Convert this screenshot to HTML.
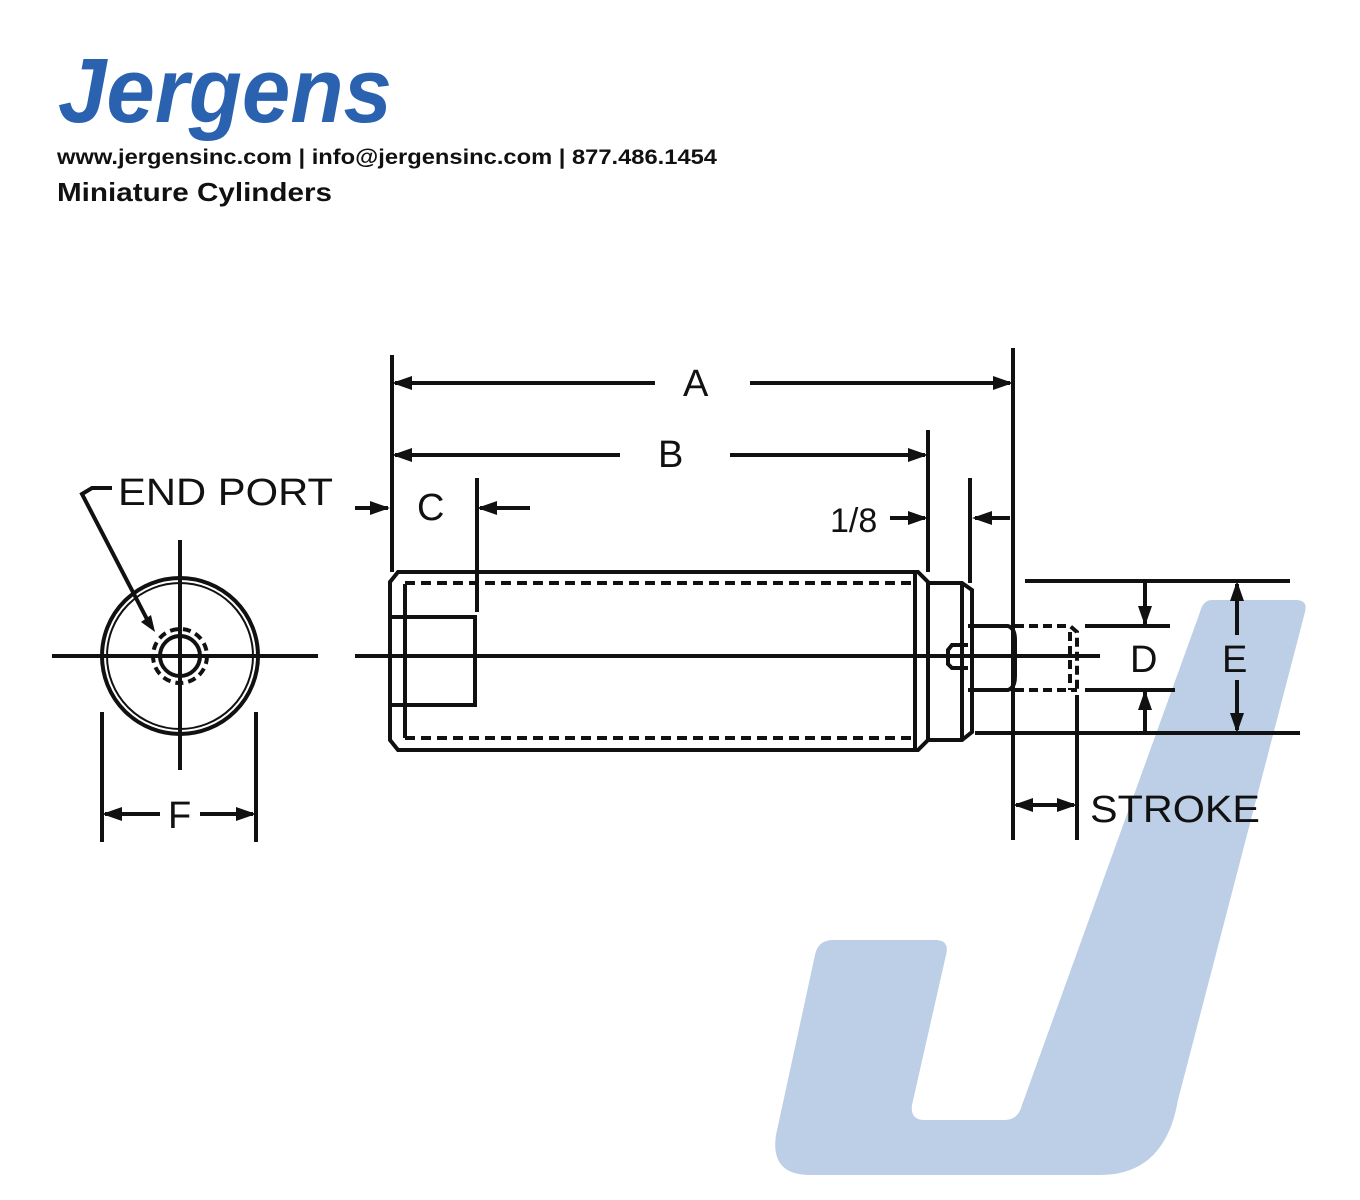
<!DOCTYPE html>
<html><head><style>body{margin:0;background:#fff}svg{display:block}</style></head><body>
<svg width="1360" height="1200" viewBox="0 0 1360 1200" xmlns="http://www.w3.org/2000/svg">
<path d="M1212,600 L1296,600 Q1308,600 1305,612 L1178,1100 Q1165,1175 1100,1175 L810,1175 Q770,1175 776,1135 L815,955 Q818,940 833,940 L935,940 Q950,940 946,955 L912,1105 Q910,1120 925,1120 L1005,1120 Q1018,1120 1022,1105 L1200,612 Q1203,600 1212,600 Z" fill="#bccfe6"/>
<text x="58" y="122" font-family="Liberation Sans, sans-serif" font-weight="bold" font-style="italic" font-size="92" fill="#2a62b0" textLength="334" lengthAdjust="spacingAndGlyphs">Jergens</text>
<text x="57" y="164" font-family="Liberation Sans, sans-serif" font-weight="bold" font-size="21" fill="#111" textLength="660" lengthAdjust="spacingAndGlyphs">www.jergensinc.com | info@jergensinc.com | 877.486.1454</text>
<text x="57" y="201" font-family="Liberation Sans, sans-serif" font-weight="bold" font-size="26" fill="#111" textLength="275" lengthAdjust="spacingAndGlyphs">Miniature Cylinders</text>
<g stroke="#111" stroke-width="4" fill="none">
<circle cx="180" cy="656" r="78"/>
<circle cx="180" cy="656" r="73" stroke-width="2"/>
<circle cx="180" cy="656" r="27" stroke-dasharray="8,5"/>
<circle cx="180" cy="656" r="20"/>
<line x1="52" y1="656" x2="318" y2="656"/>
<line x1="180" y1="540" x2="180" y2="770"/>
<line x1="102" y1="712" x2="102" y2="842"/>
<line x1="256" y1="712" x2="256" y2="842"/>
<line x1="105" y1="814" x2="160" y2="814"/>
<line x1="200" y1="814" x2="253" y2="814"/>
<path d="M112,488 L92,488 L82,494 L150,625"/>
<path d="M398,572 L918,572 L928,582 L928,740 L918,750 L398,750 L390,740 L390,582 Z"/>
<line x1="405" y1="584" x2="405" y2="738"/>
<line x1="915" y1="574" x2="915" y2="748"/>
<line x1="405" y1="583" x2="915" y2="583" stroke-dasharray="10,6"/>
<line x1="405" y1="738" x2="915" y2="738" stroke-dasharray="10,6"/>
<rect x="390" y="617" width="85" height="88"/>
<line x1="477" y1="478" x2="477" y2="612"/>
<path d="M928,583 L962,583 L972,590 L972,732 L962,740 L928,740"/>
<line x1="962" y1="584" x2="962" y2="738"/>
<path d="M968,626 L1008,626 Q1015,628 1015,640 L1015,676 Q1015,688 1008,690 L968,690"/>
<path d="M968,645 L952,645 L948,650 L948,664 L952,668 L968,668"/>
<path d="M1015,626 L1070,626 L1077,632 L1077,690 M1015,690 L1077,690 M1070,632 L1070,690" stroke-dasharray="9,5"/>
<line x1="355" y1="656" x2="1100" y2="656"/>
<line x1="392" y1="355" x2="392" y2="572"/>
<line x1="1013" y1="348" x2="1013" y2="840"/>
<line x1="395" y1="383" x2="655" y2="383"/>
<line x1="750" y1="383" x2="1010" y2="383"/>
<line x1="928" y1="430" x2="928" y2="572"/>
<line x1="395" y1="455" x2="620" y2="455"/>
<line x1="730" y1="455" x2="925" y2="455"/>
<line x1="355" y1="508" x2="388" y2="508"/>
<line x1="480" y1="508" x2="530" y2="508"/>
<line x1="890" y1="518" x2="925" y2="518"/>
<line x1="970" y1="478" x2="970" y2="583"/>
<line x1="975" y1="518" x2="1010" y2="518"/>
<line x1="1025" y1="581" x2="1290" y2="581"/>
<line x1="975" y1="733" x2="1300" y2="733"/>
<line x1="1085" y1="626" x2="1170" y2="626"/>
<line x1="1085" y1="690" x2="1175" y2="690"/>
<line x1="1145" y1="583" x2="1145" y2="624"/>
<line x1="1145" y1="692" x2="1145" y2="731"/>
<line x1="1237" y1="584" x2="1237" y2="635"/>
<line x1="1237" y1="680" x2="1237" y2="730"/>
<line x1="1077" y1="695" x2="1077" y2="840"/>
<line x1="1016" y1="805" x2="1074" y2="805"/>
</g>
<g fill="#111">
<path d="M392,383 l20,-7 v14 z M1013,383 l-20,-7 v14 z M392,455 l20,-7 v14 z M928,455 l-20,-7 v14 z"/>
<path d="M390,508 l-20,-7 v14 z M477,508 l20,-7 v14 z M928,518 l-20,-7 v14 z M972,518 l20,-7 v14 z"/>
<path d="M1145,626 l-7,-20 h14 z M1145,690 l-7,20 h14 z M1237,581 l-7,20 h14 z M1237,733 l-7,-20 h14 z"/>
<path d="M1013,805 l20,-7 v14 z M1077,805 l-20,-7 v14 z M102,814 l20,-7 v14 z M256,814 l-20,-7 v14 z M155,632 l-14,-10 l10,-7 z"/>
</g>
<g font-family="Liberation Sans, sans-serif" font-size="38" fill="#111">
<text x="683" y="396">A</text>
<text x="658" y="467">B</text>
<text x="417" y="520">C</text>
<text x="118" y="505" textLength="215" lengthAdjust="spacingAndGlyphs">END PORT</text>
<text x="830" y="532" font-size="34">1/8</text>
<text x="168" y="828">F</text>
<text x="1130" y="672">D</text>
<text x="1222" y="672">E</text>
<text x="1090" y="822" textLength="170" lengthAdjust="spacingAndGlyphs">STROKE</text>
</g>
</svg>
</body></html>
